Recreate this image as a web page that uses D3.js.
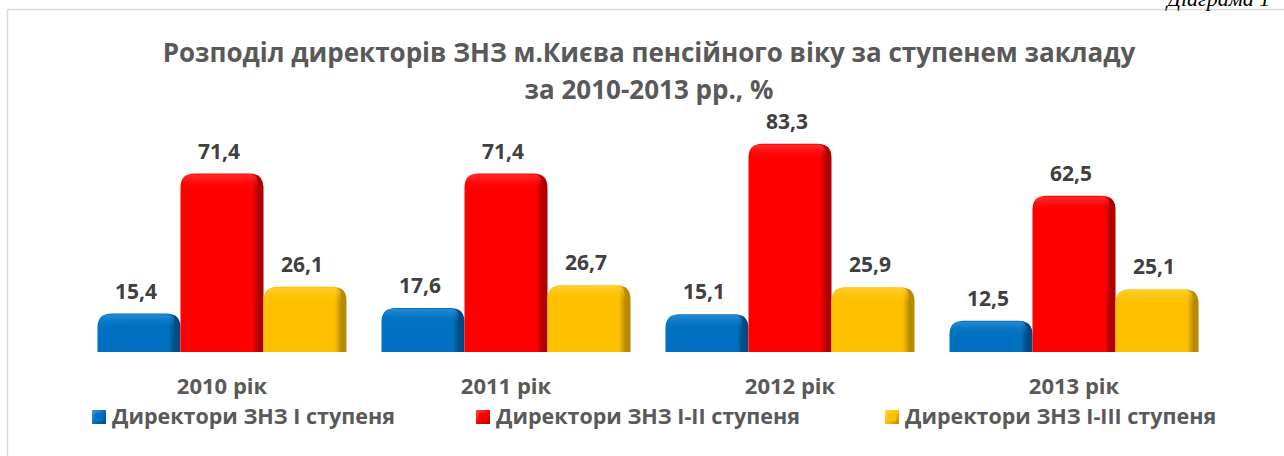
<!DOCTYPE html>
<html>
<head>
<meta charset="utf-8">
<script src="https://cdn.jsdelivr.net/npm/d3@7/dist/d3.min.js"></script>
<style>
  html, body { margin: 0; padding: 0; background: #fff; }
  svg { display: block; }
</style>
</head>
<body>
<svg id="chart" width="1284" height="456"></svg>
<script>
// Category labels (years)
const years = ["2010 рік", "2011 рік", "2012 рік", "2013 рік"];
// Series names
const seriesNames = ["Директори ЗНЗ I ступеня", "Директори ЗНЗ I-II ступеня", "Директори ЗНЗ I-III ступеня"];
// Share of pension-age directors, %
const stage1 = [15.4, 17.6, 15.1, 12.5];
const stage12 = [71.4, 71.4, 83.3, 62.5];
const stage123 = [26.1, 26.7, 25.9, 25.1];
const titleLines = ["Розподіл директорів ЗНЗ м.Києва пенсійного віку за ступенем закладу", "за 2010-2013 рр., %"];

const seriesValues = [stage1, stage12, stage123];
const palette = [
  { base: "#0070C0", light: "#3d9be0", dark: "#004a80" },
  { base: "#FF0000", light: "#ff4a4a", dark: "#b00000" },
  { base: "#FFC000", light: "#ffd54a", dark: "#b88a00" }
];

const svg = d3.select("#chart");
const FONT = "'Open Sans', 'Noto Sans', sans-serif";
const TEXT = "#595959";

// Chart frame
svg.append("rect")
  .attr("x", 7.5).attr("y", 9.5)
  .attr("width", 1400).attr("height", 600)
  .attr("fill", "#fff").attr("stroke", "#d9d9d9").attr("stroke-width", 1.5);

// Page caption above the frame
svg.append("text")
  .attr("x", 1167).attr("y", 6)
  .attr("font-family", "'Liberation Serif', serif")
  .attr("font-style", "italic")
  .attr("font-size", 22)
  .attr("fill", "#000")
  .text("Діаграма 1");

// Title
svg.append("g").selectAll("text")
  .data(titleLines)
  .join("text")
  .attr("x", 649)
  .attr("y", (d, i) => 62 + i * 37)
  .attr("text-anchor", "middle")
  .attr("font-family", FONT)
  .attr("font-weight", 700)
  .attr("font-size", 26)
  .attr("fill", TEXT)
  .text(d => d);

// Scales
const x0 = d3.scaleBand().domain(years).range([80, 1216]).paddingInner(0.123).paddingOuter(0.0615);
const x1 = d3.scaleBand().domain(d3.range(3)).range([0, x0.bandwidth()]).padding(0);
const y = d3.scaleLinear().domain([0, 100]).range([352, 102]);

// Gradients for the bevelled bars
const defs = svg.append("defs");
palette.forEach((c, i) => {
  const gh = defs.append("linearGradient").attr("id", "gh" + i)
    .attr("x1", 0).attr("x2", 1).attr("y1", 0).attr("y2", 0);
  gh.append("stop").attr("offset", 0).attr("stop-color", c.base);
  gh.append("stop").attr("offset", 0.04).attr("stop-color", c.base);
  gh.append("stop").attr("offset", 0.86).attr("stop-color", c.base);
  gh.append("stop").attr("offset", 0.94).attr("stop-color", c.dark);
  gh.append("stop").attr("offset", 1).attr("stop-color", c.dark);

  const gv = defs.append("linearGradient").attr("id", "gv" + i)
    .attr("x1", 0).attr("x2", 0).attr("y1", 0).attr("y2", 1);
  gv.append("stop").attr("offset", 0).attr("stop-color", c.light).attr("stop-opacity", 0.9);
  gv.append("stop").attr("offset", 1).attr("stop-color", c.base).attr("stop-opacity", 0);

  const gs = defs.append("linearGradient").attr("id", "gs" + i)
    .attr("x1", 0).attr("x2", 1).attr("y1", 0).attr("y2", 1);
  gs.append("stop").attr("offset", 0).attr("stop-color", c.light);
  gs.append("stop").attr("offset", 0.5).attr("stop-color", c.base);
  gs.append("stop").attr("offset", 1).attr("stop-color", c.dark);
});

// Rounded-top bar outline
function barPath(x, top, w, bottom, r) {
  r = Math.min(r, (bottom - top) / 2, w / 2);
  return `M${x},${bottom}` +
    `L${x},${top + r}` +
    `Q${x},${top} ${x + r},${top}` +
    `L${x + w - r},${top}` +
    `Q${x + w},${top} ${x + w},${top + r}` +
    `L${x + w},${bottom}Z`;
}

const bars = [];
years.forEach((yr, ci) => {
  seriesValues.forEach((vals, si) => {
    bars.push({ year: yr, si, value: vals[ci] });
  });
});

const g = svg.append("g");
const bar = g.selectAll("g.bar").data(bars).join("g").attr("class", "bar");

bar.append("path")
  .attr("d", d => barPath(x0(d.year) + x1(d.si), y(d.value), x1.bandwidth(), y(0), 14))
  .attr("fill", d => `url(#gh${d.si})`);

// Top bevel highlight
bar.append("path")
  .attr("d", d => {
    const bx = x0(d.year) + x1(d.si), top = y(d.value);
    return barPath(bx + 2, top + 1, x1.bandwidth() - 8, top + 16, 12);
  })
  .attr("fill", d => `url(#gv${d.si})`)
  .attr("opacity", 0.7);

// Value labels
g.selectAll("text.val").data(bars).join("text")
  .attr("class", "val")
  .attr("x", d => x0(d.year) + x1(d.si) + x1.bandwidth() / 2 - 3)
  .attr("y", d => y(d.value) - 15)
  .attr("text-anchor", "middle")
  .attr("font-family", FONT)
  .attr("font-weight", 700)
  .attr("font-size", 21)
  .attr("fill", "#404040")
  .text(d => d3.format(".1f")(d.value).replace(".", ","));

// Category axis labels
const xAxis = d3.axisBottom(x0).tickSize(0).tickPadding(0);
const ax = svg.append("g").attr("transform", "translate(0,394)").call(xAxis);
ax.select(".domain").remove();
ax.selectAll("text")
  .attr("dy", 0)
  .attr("y", 0)
  .attr("font-family", FONT)
  .attr("font-weight", 700)
  .attr("font-size", 22)
  .attr("fill", TEXT);

// Legend
const legendX = [92, 476, 885];
const lg = svg.append("g").selectAll("g").data(seriesNames).join("g")
  .attr("transform", (d, i) => `translate(${legendX[i]},410)`);
lg.append("rect").attr("width", 14).attr("height", 14)
  .attr("fill", (d, i) => `url(#gs${i})`);
lg.append("rect").attr("x", 3).attr("y", 3).attr("width", 8).attr("height", 8)
  .attr("fill", (d, i) => palette[i].base);
lg.append("text")
  .attr("x", 20).attr("y", 14)
  .attr("font-family", FONT)
  .attr("font-weight", 700)
  .attr("font-size", 21.5)
  .attr("fill", TEXT)
  .text(d => d);
</script>
</body>
</html>
